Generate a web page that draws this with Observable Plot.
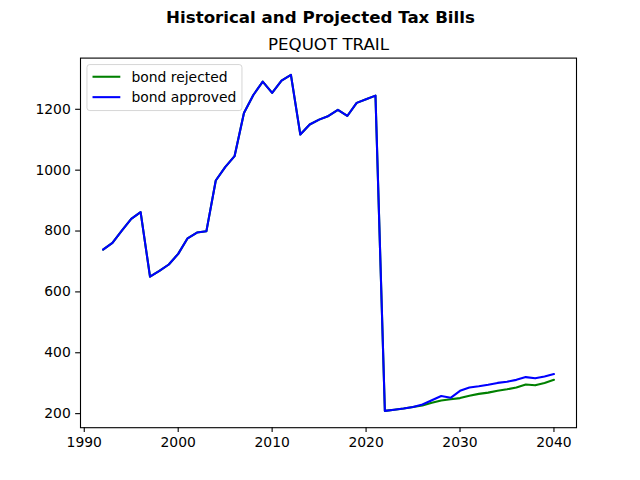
<!DOCTYPE html>
<html>
<head>
<meta charset="utf-8">
<script src="https://cdn.jsdelivr.net/npm/d3@7"></script>
<script src="https://cdn.jsdelivr.net/npm/@observablehq/plot@0.6"></script>
<style>
  html, body { margin: 0; padding: 0; background: white; }
  #chart { width: 640px; height: 480px; }
</style>
</head>
<body>
<div id="chart"></div>
<script>
// Tax bill per year, historical and projected, for the two bond outcomes
const years = [
  1992, 1993, 1994, 1995, 1996, 1997, 1998, 1999, 2000, 2001,
  2002, 2003, 2004, 2005, 2006, 2007, 2008, 2009, 2010, 2011,
  2012, 2013, 2014, 2015, 2016, 2017, 2018, 2019, 2020, 2021,
  2022, 2023, 2024, 2025, 2026, 2027, 2028, 2029, 2030, 2031,
  2032, 2033, 2034, 2035, 2036, 2037, 2038, 2039, 2040
];
const bondRejected = [
  739, 761, 801, 840, 862, 650, 669, 690, 725, 776,
  795, 799, 966, 1010, 1046, 1188, 1247, 1291, 1254, 1294,
  1313, 1117, 1150, 1166, 1178, 1198, 1178, 1221, 1233, 1245,
  209, 213, 217, 222, 227, 236, 243, 247, 251, 259,
  265, 269, 275, 280, 286, 296, 293, 301, 311
];
const bondApproved = [
  739, 761, 801, 840, 862, 650, 669, 690, 725, 776,
  795, 799, 966, 1010, 1046, 1188, 1247, 1291, 1254, 1294,
  1313, 1117, 1150, 1166, 1178, 1198, 1178, 1221, 1233, 1245,
  209, 213, 217, 222, 230, 244, 258, 252, 275, 286,
  290, 295, 301, 305, 311, 320, 316, 322, 330
];
const seriesNames = ["bond rejected", "bond approved"];
const seriesColors = ["green", "blue"];
const xTicks = [1990, 2000, 2010, 2020, 2030, 2040];
const yTicks = [200, 400, 600, 800, 1000, 1200];
const chartTitle = "Historical and Projected Tax Bills";
const axesTitle = "PEQUOT TRAIL";

const seriesValues = [bondRejected, bondApproved];
const rows = seriesNames.map((name, s) =>
  years.map((year, i) => ({ year, value: seriesValues[s][i], series: name }))
);

// autoscale with a 5% margin on each side
function padded(extent) {
  const pad = (extent[1] - extent[0]) * 0.05;
  return [extent[0] - pad, extent[1] + pad];
}
const xDomain = padded(d3.extent(years));
const yDomain = padded(d3.extent([...bondRejected, ...bondApproved]));

const W = 640, H = 480;
const mL = 80, mR = 64, mT = 57.6, mB = 52.8;
const fontBase = 13.9;   // 10pt at 100 dpi
const fontLarge = 16.67; // 12pt at 100 dpi
const tick = 4.86;

const chart = Plot.plot({
  width: W,
  height: H,
  marginLeft: mL,
  marginRight: mR,
  marginTop: mT,
  marginBottom: mB,
  style: {
    fontFamily: "DejaVu Sans",
    fontSize: fontBase + "px",
    color: "black",
    background: "white",
    overflow: "visible"
  },
  x: { domain: xDomain },
  y: { domain: yDomain },
  marks: [
    ...rows.map((data, s) =>
      Plot.line(data, {
        x: "year",
        y: "value",
        stroke: seriesColors[s],
        strokeWidth: 2.08
      })
    ),
    Plot.frame({ stroke: "black", strokeWidth: 1.1 }),
    Plot.axisX(xTicks, {
      tickSize: tick,
      tickPadding: tick,
      strokeWidth: 1.1,
      tickFormat: (d) => String(d),
      label: null
    }),
    Plot.axisY(yTicks, {
      tickSize: tick,
      tickPadding: tick,
      strokeWidth: 1.1,
      tickFormat: (d) => String(d),
      label: null
    }),
    Plot.text([chartTitle], {
      frameAnchor: "top",
      dx: W / 2 - (mL + (W - mL - mR) / 2),
      dy: -(mT - 10.5),
      lineAnchor: "top",
      fontWeight: "bold",
      fontSize: fontLarge
    }),
    Plot.text([axesTitle], {
      frameAnchor: "top",
      dy: -8.33,
      lineAnchor: "bottom",
      fontSize: fontLarge
    })
  ]
});

// legend in the upper left corner of the axes
const svg = d3.select(chart);
const lx = mL + fontBase * 0.5;
const ly = mT + fontBase * 0.5;
const legend = svg.append("g")
  .attr("class", "legend")
  .attr("text-anchor", "start");
legend.append("rect")
  .attr("x", lx)
  .attr("y", ly)
  .attr("width", 155)
  .attr("height", 46)
  .attr("rx", 2.8)
  .attr("fill", "white")
  .attr("fill-opacity", 0.8)
  .attr("stroke", "#cccccc")
  .attr("stroke-opacity", 0.8)
  .attr("stroke-width", 1);
seriesNames.forEach((name, i) => {
  const cy = ly + 12.2 + i * 20.4;
  const hx = lx + fontBase * 0.4;
  legend.append("line")
    .attr("x1", hx)
    .attr("x2", hx + fontBase * 2)
    .attr("y1", cy)
    .attr("y2", cy)
    .attr("stroke", seriesColors[i])
    .attr("stroke-width", 2.08);
  legend.append("text")
    .attr("x", hx + fontBase * 2.8)
    .attr("y", cy)
    .attr("dy", "0.36em")
    .attr("text-anchor", "start")
    .attr("font-size", fontBase)
    .attr("fill", "black")
    .text(name);
});

document.getElementById("chart").appendChild(chart);
</script>
</body>
</html>
